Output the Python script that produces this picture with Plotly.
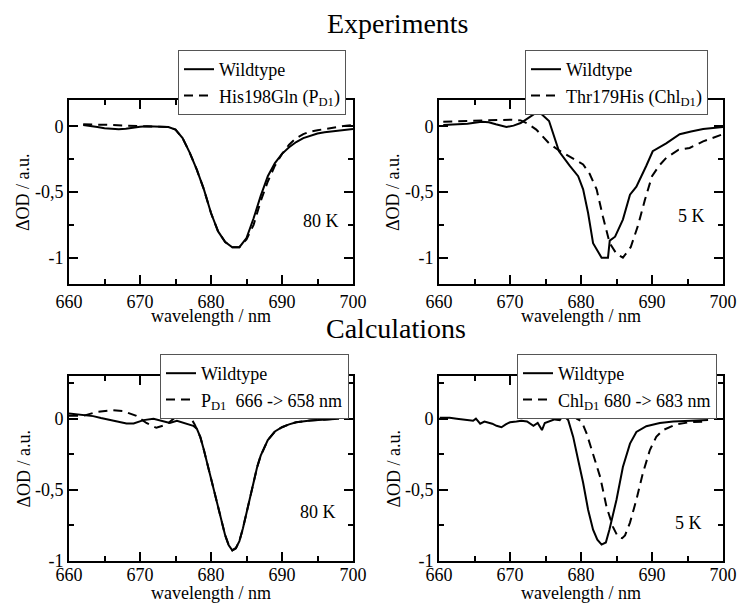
import plotly.graph_objects as go

# ---------------- data ----------------
# Top-left: experiments 80 K
tl_wt_x = [662, 663, 664, 665, 666, 667, 668, 669, 670, 671, 672, 673, 674, 675, 676, 677, 678, 679, 680, 681, 682, 683, 684, 685, 686, 687, 688, 689, 690, 691, 692, 693, 694, 695, 696, 697, 698, 699, 700]
tl_wt_y = [0.01, 0.005, -0.005, -0.015, -0.02, -0.022, -0.018, -0.01, -0.003, 0.0, 0.0, 0.0, -0.005, -0.025, -0.09, -0.2, -0.33, -0.48, -0.66, -0.8, -0.88, -0.92, -0.92, -0.85, -0.7, -0.53, -0.38, -0.28, -0.21, -0.16, -0.12, -0.09, -0.07, -0.055, -0.045, -0.038, -0.03, -0.025, -0.02]
tl_mu_x = [662, 664, 666, 668, 670, 672, 674, 675, 676, 677, 678, 679, 680, 681, 682, 683, 684, 685, 686, 687, 688, 689, 690, 691, 692, 693, 694, 695, 696, 697, 698, 699, 700]
tl_mu_y = [0.015, 0.015, 0.01, 0.005, 0.0, 0.0, -0.005, -0.025, -0.09, -0.2, -0.33, -0.48, -0.66, -0.8, -0.88, -0.92, -0.92, -0.86, -0.75, -0.57, -0.42, -0.3, -0.21, -0.14, -0.09, -0.06, -0.04, -0.03, -0.02, -0.01, 0.0, 0.005, 0.01]

# Top-right: experiments 5 K
tr_wt_x = [660.6, 662, 664, 666, 667, 668, 669.5, 670.5, 671.5, 672.5, 674, 675.5, 676.9, 678.4, 679.6, 680.3, 681, 681.7, 682.9, 683.8, 684.05, 684.8, 685.9, 686.9, 687.8, 689.2, 690.1, 692, 693.9, 695.5, 697.2, 700]
tr_wt_y = [0.01, 0.012, 0.02, 0.035, 0.03, 0.015, -0.005, 0.005, 0.025, 0.06, 0.115, 0.04, -0.19, -0.3, -0.38, -0.48, -0.66, -0.89, -1.0, -1.0, -0.87, -0.84, -0.71, -0.52, -0.46, -0.3, -0.19, -0.13, -0.06, -0.04, -0.02, -0.005]
tr_mu_x = [660.6, 664, 667, 670, 671.5, 672.5, 673.7, 675.5, 676.8, 678.4, 680.3, 681.2, 682.2, 683.1, 684.05, 685, 685.9, 687, 688, 689, 690, 691, 692, 693.7, 695.3, 697.2, 699, 700]
tr_mu_y = [0.035, 0.04, 0.045, 0.05, 0.045, 0.02, -0.025, -0.13, -0.18, -0.23, -0.29, -0.36, -0.48, -0.69, -0.89, -0.97, -1.0, -0.92, -0.76, -0.56, -0.38, -0.3, -0.24, -0.18, -0.165, -0.115, -0.08, -0.06]

# Bottom-left: calculations 80 K
bl_wt_x = [660, 661, 662, 663.4, 664.5, 665.8, 667, 668.1, 669.1, 670.5, 671.9, 673.3, 674.2, 675.2, 676.3, 677.5, 678, 678.5, 679, 679.5, 680, 680.5, 681, 681.5, 682, 682.5, 683, 683.5, 684, 684.5, 685, 685.5, 686, 686.5, 687, 687.5, 688, 689, 690, 691, 692, 694, 696, 698]
bl_wt_y = [0.037, 0.03, 0.025, 0.018, 0.005, -0.01, -0.022, -0.033, -0.033, -0.01, 0.0, -0.02, -0.03, -0.015, -0.03, -0.05, -0.07, -0.13, -0.22, -0.32, -0.42, -0.52, -0.63, -0.73, -0.82, -0.89, -0.925, -0.91, -0.86, -0.77, -0.66, -0.55, -0.44, -0.34, -0.26, -0.2, -0.15, -0.09, -0.06, -0.04, -0.025, -0.012, -0.006, 0.0]
bl_mu_x = [660, 662, 663.9, 665, 666.2, 667.6, 668.5, 669.5, 670.9, 672.3, 673.8, 674.9, 676.1, 677, 677.7, 678, 678.5, 679, 679.5, 680, 680.5, 681, 681.5, 682, 682.5, 683, 683.5, 684, 684.5, 685, 685.5, 686, 686.5, 687, 687.5, 688, 689, 690, 691, 692, 694, 696, 698]
bl_mu_y = [0.02, 0.02, 0.047, 0.055, 0.06, 0.054, 0.04, 0.02, -0.03, -0.064, -0.04, 0.007, 0.03, 0.018, -0.04, -0.07, -0.13, -0.22, -0.32, -0.42, -0.52, -0.63, -0.73, -0.82, -0.89, -0.925, -0.91, -0.86, -0.77, -0.66, -0.55, -0.44, -0.34, -0.26, -0.2, -0.15, -0.09, -0.06, -0.04, -0.025, -0.012, -0.006, 0.0]

# Bottom-right: calculations 5 K
br_wt_x = [660.1, 661.5, 662.5, 663.4, 664.3, 664.8, 665.2, 665.8, 666.4, 666.9, 667.5, 668.1, 668.8, 669.4, 670, 670.9, 671.6, 672.4, 673.3, 673.9, 674.5, 674.9, 675.6, 676.3, 677, 677.5, 678.2, 678.9, 679.6, 680.3, 681, 681.7, 682.3, 682.9, 683.5, 684, 685, 685.9, 686.9, 687.8, 689.2, 691.1, 693, 695.3, 697.9]
br_wt_y = [0.007, 0.007, 0.0, -0.007, -0.012, -0.015, 0.0, -0.035, -0.02, -0.025, -0.035, -0.05, -0.06, -0.04, -0.025, -0.02, -0.015, -0.02, -0.05, -0.03, -0.08, -0.03, -0.02, -0.005, -0.01, 0.024, -0.01, -0.128, -0.29, -0.45, -0.64, -0.78, -0.85, -0.885, -0.87, -0.78, -0.57, -0.34, -0.175, -0.093, -0.053, -0.03, -0.02, -0.015, -0.01]
br_mu_x = [677.5, 678.4, 679.4, 680.1, 680.8, 681.7, 682.7, 683.6, 684.5, 685.2, 685.8, 686.2, 686.9, 687.8, 688.7, 689.7, 690.6, 691.5, 693.4, 695.3, 697.9]
br_mu_y = [0.024, 0.063, 0.0, -0.02, -0.105, -0.245, -0.41, -0.62, -0.76, -0.83, -0.84, -0.82, -0.73, -0.57, -0.385, -0.22, -0.128, -0.081, -0.04, -0.025, -0.02]

legend_names = [
    ("Wildtype", "His198Gln (P<sub>D1</sub>)"),
    ("Wildtype", "Thr179His (Chl<sub>D1</sub>)"),
    ("Wildtype", "P<sub>D1</sub>  666 -> 658 nm"),
    ("Wildtype", "Chl<sub>D1</sub> 680 -> 683 nm"),
]
temps = ["80 K", "5 K", "80 K", "5 K"]
x_title = "wavelength / nm"
y_title = "\u0394OD / a.u."
x_ticks = [660, 670, 680, 690, 700]
x_ticklabels = ["660", "670", "680", "690", "700"]
y_ticks = [0, -0.5, -1]
y_ticklabels = ["0", "-0,5", "-1"]

# ---------------- figure ----------------
W, H = 738, 603
FONT = "Liberation Serif"

fig = go.Figure()

panels = [
    (tl_wt_x, tl_wt_y, tl_mu_x, tl_mu_y),
    (tr_wt_x, tr_wt_y, tr_mu_x, tr_mu_y),
    (bl_wt_x, bl_wt_y, bl_mu_x, bl_mu_y),
    (br_wt_x, br_wt_y, br_mu_x, br_mu_y),
]
# pixel boxes: (left, right, top, bottom)
boxes = [(69, 353, 100, 284), (439, 723, 100, 284), (69, 353, 376, 561), (439, 723, 376, 561)]
yranges = [[-1.2, 0.2], [-1.2, 0.2], [-1.0, 0.3], [-1.0, 0.3]]
legend_pos = [(346, 50), (708, 50), (349, 354), (717, 354)]
temp_pos = [(695.5, -0.72), (695.6, -0.68), (695.0, -0.655), (695.1, -0.73)]
xtitle_y = [316, 316, 593, 593]
xlabel_shift = [0, 0, -4, -4]

axis_common = dict(
    showline=True, linecolor="black", linewidth=2, mirror="allticks",
    ticks="inside", ticklen=9, tickwidth=2, tickcolor="black",
    showgrid=False, zeroline=False, automargin=False,
    tickfont=dict(family=FONT, size=18, color="black"),
)
minor_x = dict(dtick=5, tick0=660, ticks="inside", ticklen=5, tickwidth=2, tickcolor="black", showgrid=False)
minor_y = dict(dtick=0.25, tick0=0, ticks="inside", ticklen=5, tickwidth=2, tickcolor="black", showgrid=False)

for i, (wx, wy, mx, my) in enumerate(panels):
    n = i + 1
    xa = "x" if n == 1 else f"x{n}"
    ya = "y" if n == 1 else f"y{n}"
    lg = "legend" if n == 1 else f"legend{n}"
    fig.add_trace(go.Scatter(x=wx, y=wy, mode="lines", name=legend_names[i][0],
                             line=dict(color="black", width=2),
                             xaxis=xa, yaxis=ya, legend=lg))
    fig.add_trace(go.Scatter(x=mx, y=my, mode="lines", name=legend_names[i][1],
                             line=dict(color="black", width=2, dash="9px,6px"),
                             xaxis=xa, yaxis=ya, legend=lg))
    l, r, t, b = boxes[i]
    xkey = "xaxis" if n == 1 else f"xaxis{n}"
    ykey = "yaxis" if n == 1 else f"yaxis{n}"
    fig.layout[xkey] = dict(
        axis_common, domain=[l / W, r / W], range=[660, 700], anchor=ya,
        tickmode="array", tickvals=x_ticks, ticktext=x_ticklabels,
        ticklabelstandoff=xlabel_shift[i], minor=minor_x,
    )
    fig.layout[ykey] = dict(
        axis_common, domain=[1 - b / H, 1 - t / H], range=yranges[i], anchor=xa,
        tickmode="array", tickvals=y_ticks, ticktext=y_ticklabels, minor=minor_y,
    )
    lx, ly = legend_pos[i]
    fig.layout[lg] = dict(
        x=lx / W, y=1 - ly / H, xanchor="right", yanchor="top",
        bgcolor="white", bordercolor="#555555", borderwidth=1,
        font=dict(family=FONT, size=18, color="black"),
        tracegroupgap=0,
    )
    tx, ty = temp_pos[i]
    fig.add_annotation(x=tx, y=ty, xref=xa, yref=ya, text=temps[i], showarrow=False,
                       xanchor="center", yanchor="middle",
                       font=dict(family=FONT, size=18, color="black"))
    # axis titles
    fig.add_annotation(x=(l + r) / 2 / W, y=1 - xtitle_y[i] / H, xref="paper", yref="paper",
                       text=x_title, showarrow=False, xanchor="center", yanchor="middle",
                       font=dict(family=FONT, size=18, color="black"))
    fig.add_annotation(x=(l - 46) / W, y=1 - (t + b) / 2 / H, xref="paper", yref="paper",
                       text=y_title, showarrow=False, textangle=-90, xanchor="center", yanchor="middle",
                       font=dict(family=FONT, size=18, color="black"))

fig.add_annotation(x=398 / W, y=1 - 23 / H, xref="paper", yref="paper", text="Experiments",
                   showarrow=False, xanchor="center", yanchor="middle",
                   font=dict(family=FONT, size=28, color="black"))
fig.add_annotation(x=396 / W, y=1 - 328 / H, xref="paper", yref="paper", text="Calculations",
                   showarrow=False, xanchor="center", yanchor="middle",
                   font=dict(family=FONT, size=28, color="black"))

fig.update_layout(
    template="none",
    width=W, height=H, margin=dict(l=0, r=0, t=0, b=0, autoexpand=False),
    paper_bgcolor="white", plot_bgcolor="white",
    font=dict(family=FONT, color="black"),
)

fig.write_html("out.html")
